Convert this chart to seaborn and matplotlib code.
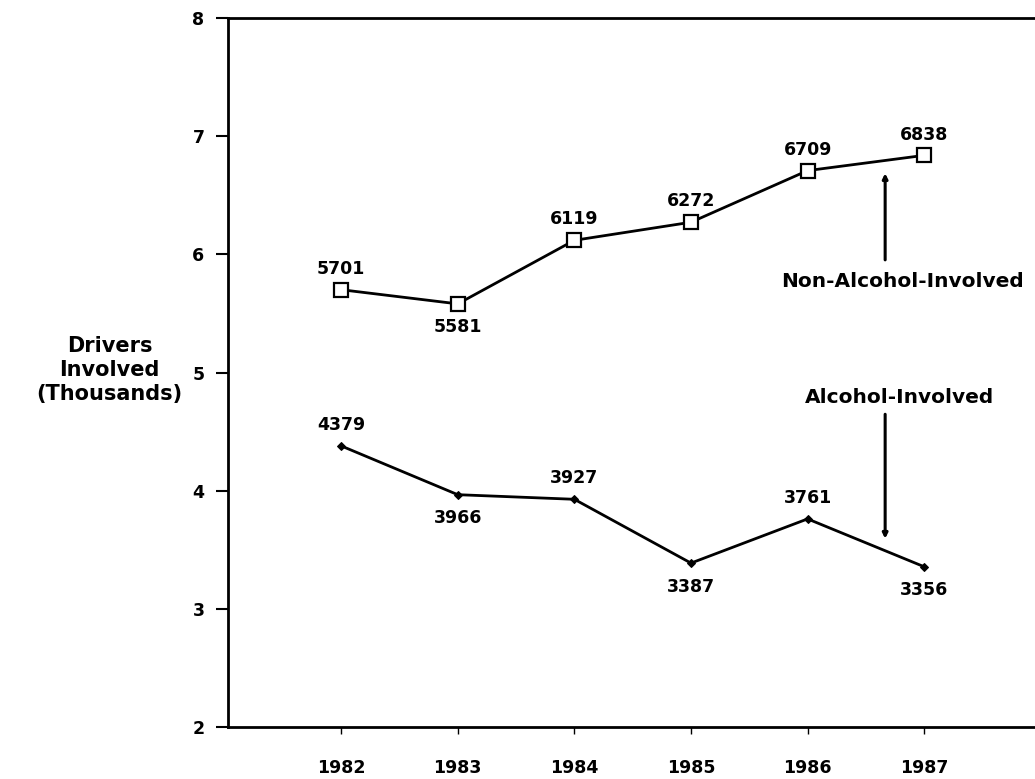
import matplotlib
matplotlib.use("Agg")
import matplotlib.pyplot as plt
import seaborn as sns
import pandas as pd

years = [1982, 1983, 1984, 1985, 1986, 1987]
non_alcohol = [5701, 5581, 6119, 6272, 6709, 6838]
alcohol = [4379, 3966, 3927, 3387, 3761, 3356]
non_pos = ["above", "below", "above", "above", "above", "above"]
alc_pos = ["above", "below", "above", "below", "above", "below"]
y_ticks = [2, 3, 4, 5, 6, 7, 8]

sns.set_style("white")
plt.rcParams['font.family'] = ['DejaVu Sans']
plt.rcParams['text.color'] = 'black'
plt.rcParams['xtick.color'] = 'black'
plt.rcParams['ytick.color'] = 'black'
plt.rcParams['axes.labelcolor'] = 'black'

df = pd.DataFrame({
    "year": years * 2,
    "value": [v / 1000 for v in non_alcohol] + [v / 1000 for v in alcohol],
    "series": ["Non-Alcohol-Involved"] * 6 + ["Alcohol-Involved"] * 6,
})

fig = plt.figure(figsize=(10.35, 7.79), dpi=100)
ax = fig.add_axes([0.2203, 0.0668, 0.7797, 0.910])

sns.lineplot(data=df[df.series == "Non-Alcohol-Involved"], x="year", y="value",
             ax=ax, color="black", linewidth=2, marker="s", markersize=10,
             markerfacecolor="white", markeredgecolor="black", markeredgewidth=1.6,
             legend=False)
sns.lineplot(data=df[df.series == "Alcohol-Involved"], x="year", y="value",
             ax=ax, color="black", linewidth=2, marker="D", markersize=4,
             markeredgecolor="black", legend=False)

for x, v, p in zip(years, non_alcohol, non_pos):
    off = 15 if p == "above" else -17
    ax.annotate(str(v), (x, v / 1000), xytext=(0, off), textcoords="offset points",
                ha="center", va="center", fontsize=12.5, fontweight="bold", color="black")
for x, v, p in zip(years, alcohol, alc_pos):
    off = 15 if p == "above" else -17
    ax.annotate(str(v), (x, v / 1000), xytext=(0, off), textcoords="offset points",
                ha="center", va="center", fontsize=12.5, fontweight="bold", color="black")

# callouts
ax.annotate("", xy=(1986.665, 6.71), xytext=(1986.665, 5.93),
            arrowprops=dict(arrowstyle="-|>", color="black", lw=2.2, mutation_scale=7))
ax.text(1986.81, 5.77, "Non-Alcohol-Involved", ha="center", va="center",
        fontsize=14.5, fontweight="bold", color="black")
ax.annotate("", xy=(1986.665, 3.57), xytext=(1986.665, 4.67),
            arrowprops=dict(arrowstyle="-|>", color="black", lw=2.2, mutation_scale=7))
ax.text(1986.79, 4.79, "Alcohol-Involved", ha="center", va="center",
        fontsize=14.5, fontweight="bold", color="black")

ax.set_xlim(1981.03, 1987.95)
ax.set_ylim(2, 8)
ax.set_xticks(years)
ax.set_xticklabels([str(y) for y in years], fontsize=12.5, fontweight="bold")
ax.set_yticks(y_ticks)
ax.set_yticklabels([str(t) for t in y_ticks], fontsize=12.5, fontweight="bold")
ax.tick_params(axis="y", direction="out", length=9, width=1.5, left=True, pad=8,
               colors="black")
ax.tick_params(axis="x", direction="out", length=5, width=1, bottom=True, pad=18,
               colors="black")
ax.set_xlabel("")
ax.set_ylabel("")

for s in ["left", "bottom", "top"]:
    ax.spines[s].set_visible(True)
    ax.spines[s].set_color("black")
    ax.spines[s].set_linewidth(2)
ax.spines["right"].set_visible(False)

fig.text(0.106, 0.525, "Drivers\nInvolved\n(Thousands)", ha="center", va="center",
         fontsize=15, fontweight="bold", linespacing=1.25, color="black")

fig.savefig("out.png", dpi=100)
